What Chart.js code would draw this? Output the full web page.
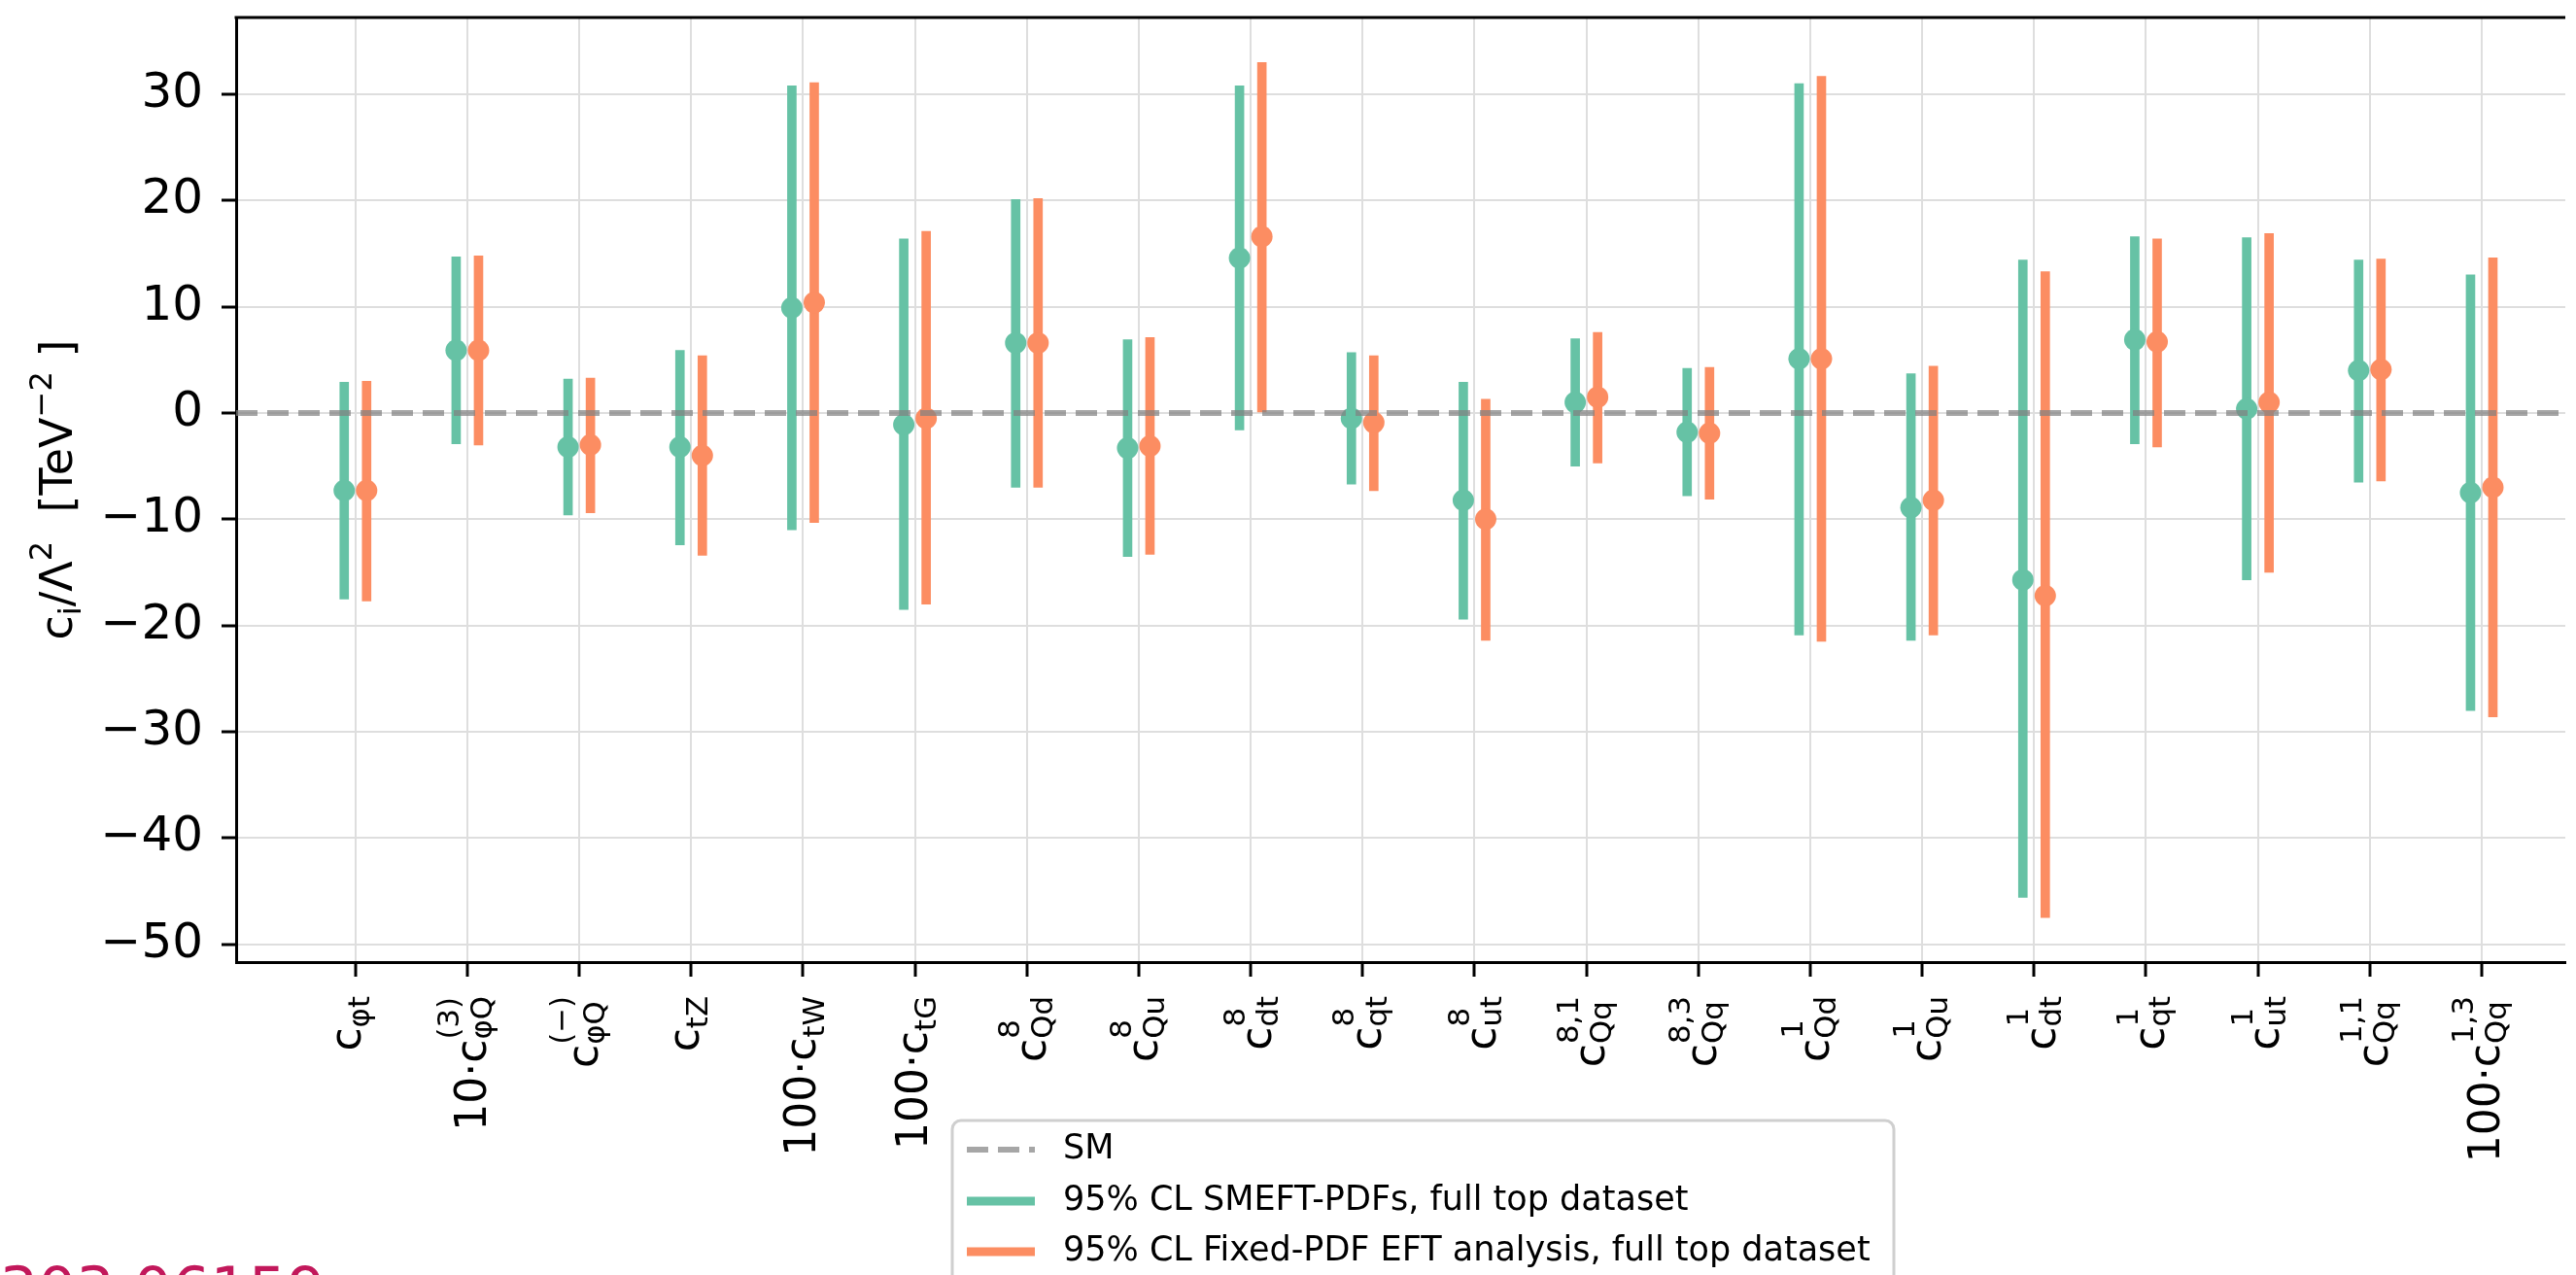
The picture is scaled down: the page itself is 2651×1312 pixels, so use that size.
<!DOCTYPE html>
<html>
<head>
<meta charset="utf-8">
<title>SMEFT coefficient bounds</title>
<script src="https://cdn.jsdelivr.net/npm/chart.js@4/dist/chart.umd.min.js"></script>
<style>
  html, body { margin: 0; padding: 0; background: #ffffff; overflow: hidden; }
  #chart { display: block; }
</style>
</head>
<body>
<canvas id="chart" width="2651" height="1312"></canvas>
<script>
// Operator labels: prefix factor, subscript and superscript of each coefficient c
const labelPrefix = ['', '10·', '', '', '100·', '100·', '', '', '', '', '', '', '', '', '', '', '', '', '', '100·'];
const labelSub = ['φt', 'φQ', 'φQ', 'tZ', 'tW', 'tG', 'Qd', 'Qu', 'dt', 'qt', 'ut', 'Qq', 'Qq', 'Qd', 'Qu', 'dt', 'qt', 'ut', 'Qq', 'Qq'];
const labelSup = ['', '(3)', '(−)', '', '', '', '8', '8', '8', '8', '8', '8,1', '8,3', '1', '1', '1', '1', '1', '1,1', '1,3'];

// SMEFT-PDFs fit, full top dataset (best fit and 95% CL interval) [TeV^-2]
const smeftBest = [-7.3, 5.9, -3.2, -3.2, 9.9, -1.1, 6.6, -3.3, 14.6, -0.5, -8.2, 1.0, -1.8, 5.1, -8.9, -15.7, 6.9, 0.4, 4.0, -7.5];
const smeftLow  = [-17.5, -2.9, -9.6, -12.4, -11.0, -18.5, -7.0, -13.5, -1.6, -6.7, -19.4, -5.0, -7.8, -20.9, -21.4, -45.6, -2.9, -15.7, -6.5, -28.0];
const smeftHigh = [2.9, 14.7, 3.2, 5.9, 30.8, 16.4, 20.1, 6.9, 30.8, 5.7, 2.9, 7.0, 4.2, 31.0, 3.7, 14.4, 16.6, 16.5, 14.4, 13.0];

// Fixed-PDF EFT analysis, full top dataset
const fixedBest = [-7.3, 5.9, -3.0, -4.0, 10.4, -0.5, 6.6, -3.1, 16.6, -0.9, -10.0, 1.5, -1.9, 5.1, -8.2, -17.2, 6.7, 1.0, 4.1, -7.0];
const fixedLow  = [-17.7, -3.0, -9.4, -13.4, -10.3, -18.0, -7.0, -13.3, 0.1, -7.3, -21.4, -4.7, -8.1, -21.5, -20.9, -47.5, -3.2, -15.0, -6.4, -28.6];
const fixedHigh = [3.0, 14.8, 3.3, 5.4, 31.1, 17.1, 20.2, 7.1, 33.0, 5.4, 1.3, 7.6, 4.3, 31.7, 4.4, 13.3, 16.4, 16.9, 14.5, 14.6];

const yTicks = [-50, -40, -30, -20, -10, 0, 10, 20, 30];
const smValue = 0;
const legendLabels = ['SM', '95% CL SMEFT-PDFs, full top dataset', '95% CL Fixed-PDF EFT analysis, full top dataset'];
const sourceTag = '2303.06159';

// axis limits and styling
const xMin = -1.066, xMax = 19.747;
const yMin = -51.69, yMax = 37.24;
const pairOffset = 0.1;
const GREEN = '#66c2a5', ORANGE = '#fc8d62', SMGREY = 'rgba(128,128,128,0.7)';
const FONT = 'DejaVu Sans';
const F = s => s + 'px "' + FONT + '"';

const idx = smeftBest.map((_, i) => i);

function pts(best, sign) {
  return idx.map(i => ({ x: i + sign * pairOffset, y: best[i] }));
}
function bars(lo, hi, sign) {
  return idx.map(i => ({ x: i + sign * pairOffset, y: [lo[i], hi[i]] }));
}

function measure(ctx, text, size) {
  ctx.font = F(size);
  const m = ctx.measureText(text);
  return { w: m.width, a: m.actualBoundingBoxAscent, d: m.actualBoundingBoxDescent };
}

// draws a sequence of runs [text, 'base'|'sub'|'sup'] along the current baseline
function drawRuns(ctx, runs, x0, base, size) {
  let x = x0;
  for (const [t, kind] of runs) {
    const s = kind === 'base' ? size : size * 0.7;
    const dy = kind === 'sub' ? size * 0.2 : kind === 'sup' ? -size * 0.45 : 0;
    ctx.font = F(s);
    ctx.fillText(t, x, base + dy);
    x += ctx.measureText(t).width;
  }
  return x - x0;
}
function runsWidth(ctx, runs, size) {
  let w = 0;
  for (const [t, kind] of runs) {
    ctx.font = F(kind === 'base' ? size : size * 0.7);
    w += ctx.measureText(t).width;
  }
  return w;
}

const decorations = {
  id: 'decorations',
  afterDraw(chart) {
    const { ctx, chartArea: a } = chart;
    const xs = chart.scales.x;
    ctx.save();

    // top spine
    ctx.strokeStyle = '#000';
    ctx.lineWidth = 3;
    ctx.beginPath();
    ctx.moveTo(a.left - 1.5, a.top);
    ctx.lineTo(a.right, a.top);
    ctx.stroke();

    // rotated operator labels under the x axis
    ctx.fillStyle = '#000';
    ctx.textAlign = 'left';
    ctx.textBaseline = 'alphabetic';
    const size = 44, small = size * 0.7;
    const labelTop = a.bottom + 35;
    for (const i of idx) {
      const head = labelPrefix[i] + 'c';
      const mh = measure(ctx, head, size);
      const ms = labelSub[i] ? measure(ctx, labelSub[i], small) : null;
      const mp = labelSup[i] ? measure(ctx, labelSup[i], small) : null;
      const subDown = size * (mp ? 0.15 : 0.2);
      const supUp = size * 0.62;
      const W = mh.w + Math.max(ms ? ms.w : 0, mp ? mp.w : 0);
      const asc = Math.max(mh.a, mp ? supUp + mp.a : 0);
      const desc = Math.max(mh.d, ms ? subDown + ms.d : 0);
      const b = (asc - desc) / 2;
      ctx.save();
      ctx.translate(xs.getPixelForValue(i), labelTop);
      ctx.rotate(-Math.PI / 2);
      ctx.font = F(size);
      ctx.fillText(head, -W, b);
      if (ms) { ctx.font = F(small); ctx.fillText(labelSub[i], -W + mh.w, b + subDown); }
      if (mp) { ctx.font = F(small); ctx.fillText(labelSup[i], -W + mh.w, b - supUp); }
      ctx.restore();
    }

    // y axis title
    const tSize = 46;
    const titleRuns = [['c', 'base'], ['i', 'sub'], ['/Λ', 'base'], ['2', 'sup'], ['  [TeV', 'base'], ['−2', 'sup'], [' ]', 'base']];
    const tw = runsWidth(ctx, titleRuns, tSize);
    ctx.save();
    ctx.translate(74, (a.top + a.bottom) / 2);
    ctx.rotate(-Math.PI / 2);
    drawRuns(ctx, titleRuns, -tw / 2, 0, tSize);
    ctx.restore();

    // legend
    const lx = 980, ly = 1153, lw = 969, lh = 230;
    ctx.beginPath();
    ctx.roundRect(lx, ly, lw, lh, 9);
    ctx.fillStyle = 'rgba(255,255,255,0.85)';
    ctx.fill();
    ctx.strokeStyle = '#cfcfcf';
    ctx.lineWidth = 3;
    ctx.stroke();
    const rows = [1183, 1236, 1288];
    const handleX0 = 995, handleX1 = 1065;
    const styles = [
      { c: SMGREY, w: 6, dash: [22, 10] },
      { c: GREEN, w: 9, dash: [] },
      { c: ORANGE, w: 9, dash: [] }
    ];
    legendLabels.forEach((txt, k) => {
      ctx.beginPath();
      ctx.setLineDash(styles[k].dash);
      ctx.strokeStyle = styles[k].c;
      ctx.lineWidth = styles[k].w;
      ctx.lineCap = 'butt';
      ctx.moveTo(handleX0, rows[k]);
      ctx.lineTo(handleX1, rows[k]);
      ctx.stroke();
      ctx.setLineDash([]);
      ctx.fillStyle = '#000';
      ctx.font = F(35);
      ctx.textBaseline = 'middle';
      ctx.fillText(txt, 1094, rows[k]);
    });

    // source tag at the lower left
    ctx.textBaseline = 'alphabetic';
    ctx.fillStyle = '#c2185b';
    ctx.font = F(62);
    ctx.fillText(sourceTag, -40, 1348);

    ctx.restore();
  }
};

new Chart(document.getElementById('chart'), {
  type: 'scatter',
  data: {
    datasets: [
      {
        type: 'line', label: legendLabels[0],
        data: [{ x: xMin, y: smValue }, { x: xMax, y: smValue }],
        borderColor: SMGREY, borderWidth: 6, borderDash: [22, 10],
        pointRadius: 0, fill: false, order: 0
      },
      {
        type: 'scatter', label: legendLabels[1], data: pts(smeftBest, -1),
        backgroundColor: GREEN, borderWidth: 0, pointRadius: 11, order: 1
      },
      {
        type: 'scatter', label: legendLabels[2], data: pts(fixedBest, 1),
        backgroundColor: ORANGE, borderWidth: 0, pointRadius: 11, order: 1
      },
      {
        type: 'bar', label: legendLabels[1], data: bars(smeftLow, smeftHigh, -1),
        backgroundColor: GREEN, borderWidth: 0, barThickness: 9, grouped: false, order: 2
      },
      {
        type: 'bar', label: legendLabels[2], data: bars(fixedLow, fixedHigh, 1),
        backgroundColor: ORANGE, borderWidth: 0, barThickness: 9, grouped: false, order: 2
      }
    ]
  },
  options: {
    responsive: false,
    animation: false,
    devicePixelRatio: 1,
    layout: { padding: { top: 18, left: 0, right: 0, bottom: 0 } },
    plugins: { legend: { display: false }, tooltip: { enabled: false } },
    scales: {
      x: {
        type: 'linear', min: xMin, max: xMax, offset: false,
        grid: { color: '#dedede', lineWidth: 2, drawTicks: true, tickLength: 15, tickColor: '#000', tickWidth: 3, offset: false },
        border: { color: '#000', width: 3 },
        ticks: { display: false },
        afterBuildTicks: s => { s.ticks = idx.map(v => ({ value: v })); },
        afterFit: s => { s.height = 322; s.paddingLeft = 0; s.paddingRight = 0; }
      },
      y: {
        type: 'linear', min: yMin, max: yMax,
        grid: { color: '#dedede', lineWidth: 2, drawTicks: true, tickLength: 15, tickColor: '#000', tickWidth: 3 },
        border: { color: '#000', width: 3 },
        ticks: {
          color: '#000', padding: 19, font: { family: FONT, size: 50 },
          callback: v => (v < 0 ? '\u2212' : '') + Math.abs(v)
        },
        afterBuildTicks: s => { s.ticks = yTicks.map(v => ({ value: v })); },
        afterFit: s => { s.width = 243; s.paddingTop = 0; s.paddingBottom = 0; }
      }
    }
  },
  plugins: [decorations]
});
</script>
</body>
</html>
